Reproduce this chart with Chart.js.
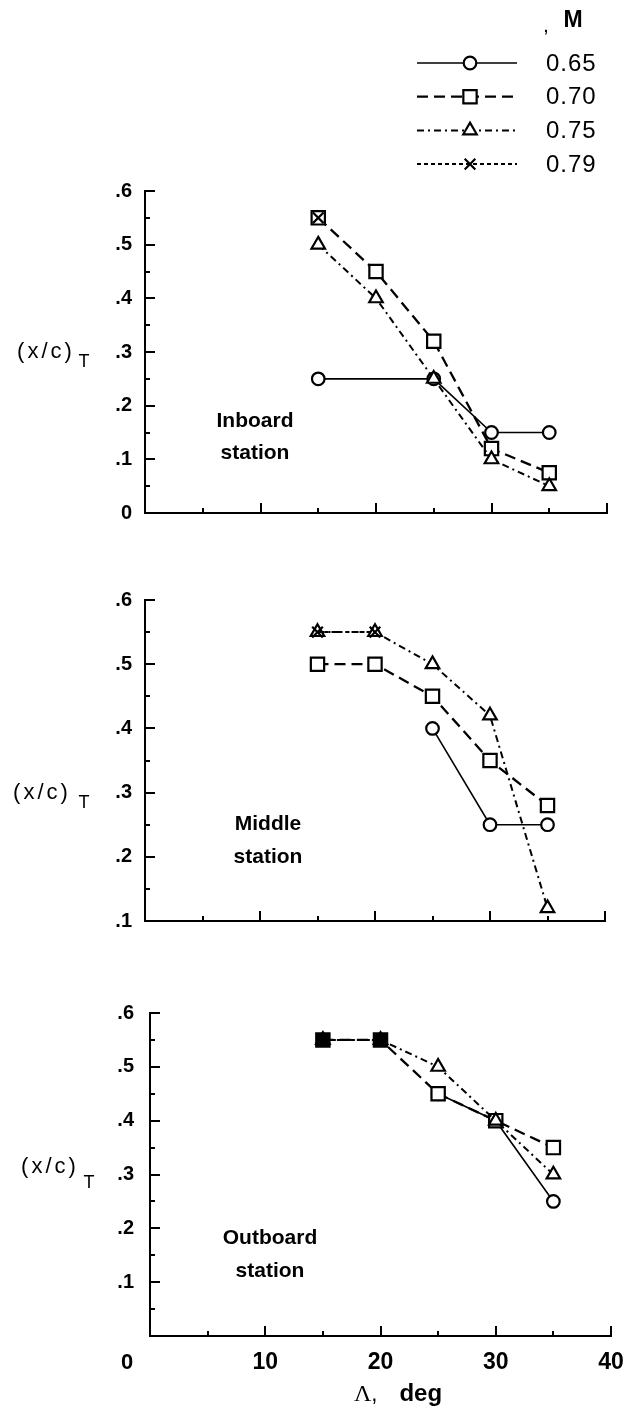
<!DOCTYPE html>
<html lang="en">
<head>
<meta charset="UTF-8">
<title>Transition location vs sweep angle</title>
<script src="https://cdn.jsdelivr.net/npm/chart.js"></script>
<style>
  body {
    margin: 0;
    background: #fff;
    width: 643px;
    height: 1411px;
    position: relative;
    overflow: hidden;
    font-family: "Liberation Sans", Arial, sans-serif;
    color: #000;
  }
  canvas { position: absolute; left: 0; }
  .t { position: absolute; white-space: nowrap; transform: translate(-50%, -50%); }
  .st { font-weight: bold; font-size: 21px; }
  .xc { font-size: 22px; letter-spacing: 3px; }
  .sub { font-size: 18px; }
</style>
</head>
<body>
<canvas id="inboard" width="643" height="540" style="top:0"></canvas>
<canvas id="middle" width="643" height="420" style="top:540px"></canvas>
<canvas id="outboard" width="643" height="451" style="top:960px"></canvas>

<div class="t st" style="left:255px;top:420px">Inboard</div>
<div class="t st" style="left:255px;top:452px">station</div>
<div class="t st" style="left:268px;top:823px">Middle</div>
<div class="t st" style="left:268px;top:856px">station</div>
<div class="t st" style="left:270px;top:1237px">Outboard</div>
<div class="t st" style="left:270px;top:1270px">station</div>

<div class="t xc" style="left:46px;top:351px">(x/c)</div>
<div class="t sub" style="left:84px;top:361px">T</div>
<div class="t xc" style="left:42px;top:792px">(x/c)</div>
<div class="t sub" style="left:84px;top:802px">T</div>
<div class="t xc" style="left:50px;top:1166px">(x/c)</div>
<div class="t sub" style="left:89px;top:1182px">T</div>

<div class="t" style="left:127px;top:1362px;font-weight:bold;font-size:22px">0</div>
<div class="t" style="left:398px;top:1393px"><span style="font-family:'Liberation Serif';font-size:24px">Λ</span><span style="font-size:22px">,</span><span style="font-weight:bold;font-size:24px;margin-left:22px">deg</span></div>

<script>
// sweep angle, deg
const sweepDeg = [15, 20, 25, 30, 35];
const machLabels = ['0.65', '0.70', '0.75', '0.79'];

// (x/c)T at the inboard station, one array per Mach number
const inboardM065 = [0.25, null, 0.25, 0.15, 0.15];
const inboardM070 = [0.55, 0.45, 0.32, 0.12, 0.075];
const inboardM075 = [0.50, 0.40, 0.25, 0.10, 0.05];
const inboardM079 = [0.55, null, null, null, null];

// middle station
const middleM065 = [null, null, 0.40, 0.25, 0.25];
const middleM070 = [0.50, 0.50, 0.45, 0.35, 0.28];
const middleM075 = [0.55, 0.55, 0.50, 0.42, 0.12];
const middleM079 = [0.55, 0.55, null, null, null];

// outboard station
const outboardM065 = [null, null, 0.45, 0.40, 0.25];
const outboardM070 = [0.55, 0.55, 0.45, 0.40, 0.35];
const outboardM075 = [0.55, 0.55, 0.50, 0.40, 0.30];
const outboardM079 = [0.55, 0.55, null, null, null];

// labelled tick values
const xLabelValues = [10, 20, 30, 40];
const yLabelsInboard = [0, 0.1, 0.2, 0.3, 0.4, 0.5, 0.6];
const yLabelsOther = [0.1, 0.2, 0.3, 0.4, 0.5, 0.6];

// line and symbol style for each Mach number (lower order is drawn on top)
const lineStyles = [
  { dash: [], width: 1.6, point: 'circle', radius: 6.3, order: 1 },
  { dash: [11, 6], width: 2.3, point: 'rect', radius: 9.4, order: 0 },
  { dash: [7, 4, 2, 4], width: 2, point: 'triangle', radius: 7.8, order: -0.5 },
  { dash: [4, 3], width: 2, point: 'crossRot', radius: 7.5, order: -1 }
];

const FONT = '"Liberation Sans", Arial, sans-serif';

function near(a, b) { return Math.abs(a - b) < 1e-6; }
function isMultiple(v, step) { return near(v / step, Math.round(v / step)); }

function toPoints(values) {
  return sweepDeg.map((x, i) => ({ x, y: values[i] })).filter(p => p.y !== null);
}

// solidAt: sweep angles where the coincident symbols print as one solid block
function buildDatasets(seriesValues, solidAt) {
  return seriesValues.map((values, i) => {
    const s = lineStyles[i];
    return {
      label: machLabels[i],
      data: toPoints(values),
      showLine: true,
      tension: 0,
      borderColor: '#000',
      borderWidth: s.width,
      borderDash: s.dash,
      pointStyle: s.point,
      pointRadius: s.radius,
      pointBorderWidth: 2.2,
      pointBorderColor: '#000',
      pointBackgroundColor: c =>
        ((i === 1 || i === 2) && c.raw && solidAt.includes(c.raw.x)) ? '#000' : '#fff',
      order: s.order,
      clip: false
    };
  });
}

// short inward tick marks, longer on the labelled values
const inwardTicks = {
  id: 'inwardTicks',
  afterDatasetsDraw(chart) {
    const { ctx, chartArea } = chart;
    const xs = chart.scales.x, ys = chart.scales.y;
    ctx.save();
    ctx.strokeStyle = '#000';
    ctx.lineWidth = 2;
    ctx.setLineDash([]);
    ctx.beginPath();
    xs.ticks.forEach(t => {
      const px = Math.round(xs.getPixelForValue(t.value));
      const len = isMultiple(t.value, 10) ? 10 : 5;
      ctx.moveTo(px, chartArea.bottom);
      ctx.lineTo(px, chartArea.bottom - len);
    });
    ys.ticks.forEach(t => {
      const py = Math.round(ys.getPixelForValue(t.value));
      const len = isMultiple(t.value, 0.1) ? 10 : 5;
      ctx.moveTo(chartArea.left, py);
      ctx.lineTo(chartArea.left + len, py);
    });
    ctx.stroke();
    ctx.restore();
  }
};

// Mach number key in the upper right corner
const machKey = {
  id: 'machKey',
  afterDraw(chart) {
    const ctx = chart.ctx;
    ctx.save();
    ctx.fillStyle = '#000';
    ctx.textBaseline = 'middle';
    ctx.textAlign = 'center';
    ctx.font = 'bold 23px ' + FONT;
    ctx.fillText('M', 573, 21);
    ctx.font = 'bold 14px ' + FONT;
    ctx.fillText(',', 546, 28);
    chart.data.datasets.forEach((ds, i) => {
      const y = 63 + i * 33.7;
      ctx.strokeStyle = '#000';
      ctx.setLineDash(ds.borderDash);
      ctx.lineWidth = ds.borderWidth;
      ctx.beginPath();
      ctx.moveTo(417, y);
      ctx.lineTo(517, y);
      ctx.stroke();
      ctx.setLineDash([]);
      ctx.lineWidth = 2.2;
      ctx.fillStyle = '#fff';
      Chart.helpers.drawPoint(ctx, {
        pointStyle: ds.pointStyle, radius: ds.pointRadius, rotation: 0, borderWidth: 2.2
      }, 470, y);
      ctx.fillStyle = '#000';
      ctx.textAlign = 'left';
      ctx.font = '24px ' + FONT;
      ctx.letterSpacing = '1px';
      ctx.fillText(ds.label, 546, y + 1);
      ctx.letterSpacing = '0px';
    });
    ctx.restore();
  }
};

function makeChart(id, datasets, o) {
  return new Chart(document.getElementById(id), {
    type: 'scatter',
    data: { datasets },
    options: {
      responsive: false,
      animation: false,
      events: [],
      layout: { padding: { left: 0, top: o.top, right: o.right, bottom: 0 } },
      plugins: { legend: { display: false }, tooltip: { enabled: false } },
      scales: {
        x: {
          type: 'linear',
          min: 0,
          max: 40,
          grid: { display: false, drawTicks: false },
          border: { display: true, color: '#000', width: 2 },
          ticks: {
            display: o.xLabels,
            stepSize: 5,
            maxTicksLimit: 20,
            autoSkip: false,
            maxRotation: 0,
            padding: 13,
            color: '#000',
            font: { family: FONT, size: 23, weight: 'bold' },
            callback: v => (xLabelValues.includes(v) ? String(v) : '')
          },
          afterFit: s => { s.height = o.xHeight; }
        },
        y: {
          type: 'linear',
          min: o.yMin,
          max: 0.6,
          grid: { display: false, drawTicks: false },
          border: { display: true, color: '#000', width: 2 },
          ticks: {
            stepSize: 0.05,
            maxTicksLimit: 20,
            autoSkip: false,
            padding: o.yPad,
            color: '#000',
            font: { family: FONT, size: 20, weight: 'bold' },
            callback: v => {
              const l = o.yLabels.find(k => near(k, v));
              if (l === undefined) return '';
              return l === 0 ? '0' : '.' + Math.round(l * 10);
            }
          },
          afterFit: s => { s.width = o.yWidth; }
        }
      }
    },
    plugins: [inwardTicks].concat(o.extra || [])
  });
}

makeChart('inboard',
  buildDatasets([inboardM065, inboardM070, inboardM075, inboardM079], []),
  { top: 191, right: 36, xHeight: 27, yWidth: 145, yMin: 0, yPad: 13,
    yLabels: yLabelsInboard, xLabels: false, extra: [machKey] });

makeChart('middle',
  buildDatasets([middleM065, middleM070, middleM075, middleM079], []),
  { top: 60, right: 38, xHeight: 39, yWidth: 145, yMin: 0.1, yPad: 13,
    yLabels: yLabelsOther, xLabels: false });

makeChart('outboard',
  buildDatasets([outboardM065, outboardM070, outboardM075, outboardM079], [15, 20]),
  { top: 53, right: 32, xHeight: 75, yWidth: 150, yMin: 0, yPad: 16,
    yLabels: yLabelsOther, xLabels: true });
</script>
</body>
</html>
